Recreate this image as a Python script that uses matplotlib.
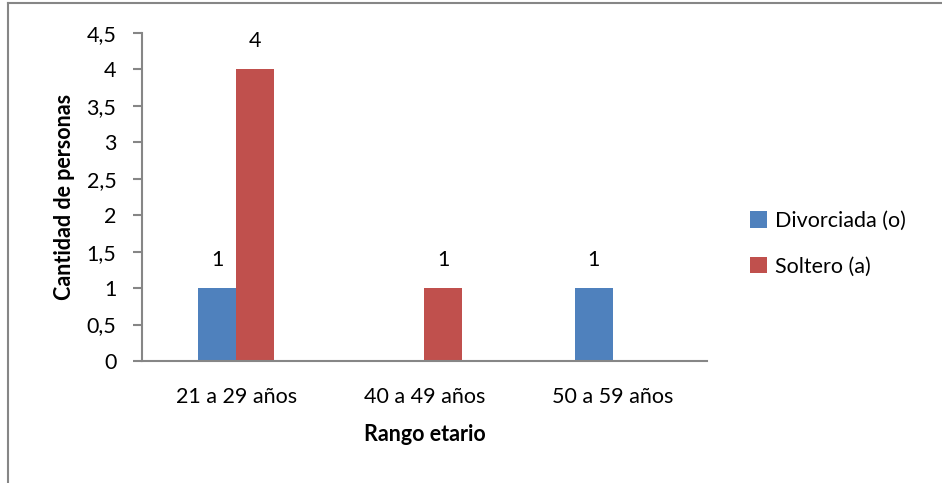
import numpy as np
import matplotlib
matplotlib.use("Agg")
import matplotlib.pyplot as plt
from matplotlib.lines import Line2D
from matplotlib.ticker import FuncFormatter, MultipleLocator

# Data
categories = ["21 a 29 años", "40 a 49 años", "50 a 59 años"]
divorciada = [1, 0, 1]
soltero = [4, 1, 0]
series_names = ["Divorciada (o)", "Soltero (a)"]

plt.rcParams['font.family'] = ['Lato', 'DejaVu Sans']

BLUE = "#4F81BD"
RED = "#C0504D"
GRAY = "#868686"
FS = 15.5

fig = plt.figure(figsize=(9.42, 4.83), dpi=100)
ax = fig.add_axes([0.1507, 0.2526, 0.5998, 0.6791])

x = np.arange(len(categories))
w = 0.2
b1 = ax.bar(x - w / 2, divorciada, width=w, color=BLUE, label=series_names[0])
b2 = ax.bar(x + w / 2, soltero, width=w, color=RED, label=series_names[1])

# Value labels only for non-zero bars
for bars, vals in ((b1, divorciada), (b2, soltero)):
    for rect, v in zip(bars, vals):
        if v:
            ax.annotate(f"{v}", (rect.get_x() + rect.get_width() / 2, v),
                        xytext=(0, 13), textcoords="offset points",
                        ha="center", va="bottom", fontsize=FS)

ax.set_xlim(-0.5, len(categories) - 0.5)
ax.set_ylim(0, 4.5)
ax.yaxis.set_major_locator(MultipleLocator(0.5))
ax.yaxis.set_major_formatter(FuncFormatter(
    lambda v, p: (f"{v:g}").replace(".", ",")))
ax.set_xticks(x)
ax.set_xticklabels(categories, fontsize=FS)
ax.tick_params(axis="x", length=0, pad=19)
ax.tick_params(axis="y", length=6.5, color=GRAY, width=1.5, labelsize=FS, pad=12)

for side in ("top", "right"):
    ax.spines[side].set_visible(False)
for side in ("left", "bottom"):
    ax.spines[side].set_color(GRAY)
    ax.spines[side].set_linewidth(1.5)

ax.set_xlabel("Rango etario", fontsize=FS, fontweight="bold", labelpad=12)
ax.set_ylabel("Cantidad de personas", fontsize=FS, fontweight="bold", labelpad=8)

leg = fig.legend(handles=[b1, b2], labels=series_names, loc="center left",
                 bbox_to_anchor=(0.776, 0.495), frameon=False, fontsize=FS,
                 handlelength=0.78, handleheight=0.78, handletextpad=0.35,
                 labelspacing=1.2)

# Chart area frame (top and left edges)
fig.add_artist(Line2D([0.0088, 1.0], [0.9938, 0.9938], color=GRAY, lw=1.5,
                      transform=fig.transFigure))
fig.add_artist(Line2D([0.0088, 0.0088], [0.0, 0.9938], color=GRAY, lw=1.5,
                      transform=fig.transFigure))

fig.savefig("out.png", dpi=100)
